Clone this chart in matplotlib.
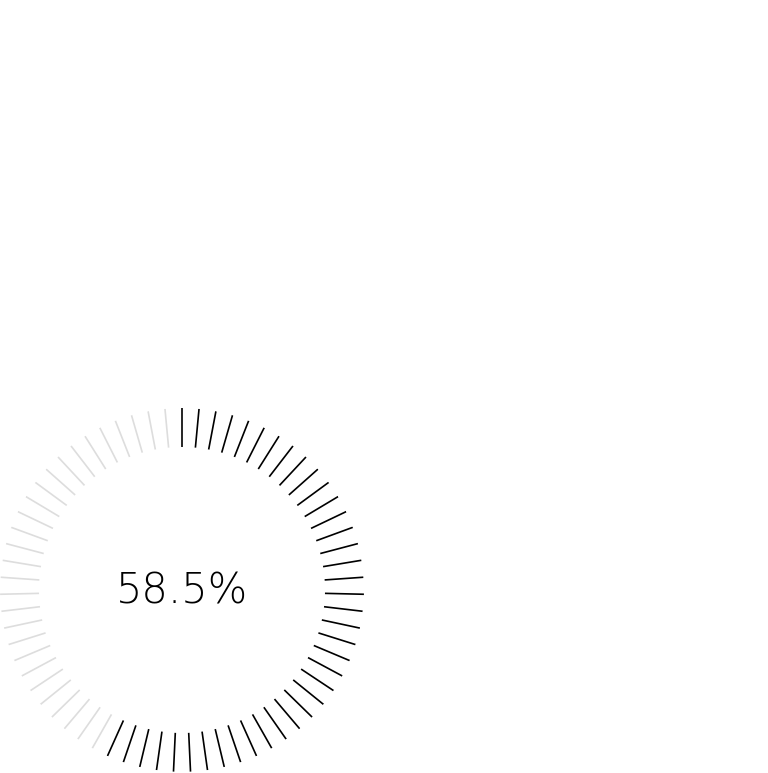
import numpy as np
import matplotlib
matplotlib.use("Agg")
import matplotlib.pyplot as plt

# gauge data
value = 0.585
label = "58.5%"
n_ticks = 67

on_color = "#000000"
off_color = "#dddddd"

W, H = 768, 773
fig = plt.figure(figsize=(W / 100, H / 100), dpi=100)

# polar axes sized so the ring sits at bottom-left (centre ~ (182, 590) px)
cx, cy, r_out = 182, 590, 182
ax = fig.add_axes([(cx - r_out) / W, (H - cy - r_out) / H,
                   2 * r_out / W, 2 * r_out / H], projection="polar")
ax.set_theta_zero_location("N")
ax.set_theta_direction(-1)
ax.set_ylim(0, r_out)
ax.axis("off")

theta = np.arange(n_ticks) * 2 * np.pi / n_ticks
n_on = int(round(value * n_ticks))
colors = [on_color if i < n_on else off_color for i in range(n_ticks)]

ax.vlines(theta, 143, r_out, colors=colors, linewidth=1.2)

ax.text(np.pi, 1.5, label, ha="center", va="center", fontsize=30,
        fontweight="light", color="#000000")

fig.savefig("out.png", dpi=100)
